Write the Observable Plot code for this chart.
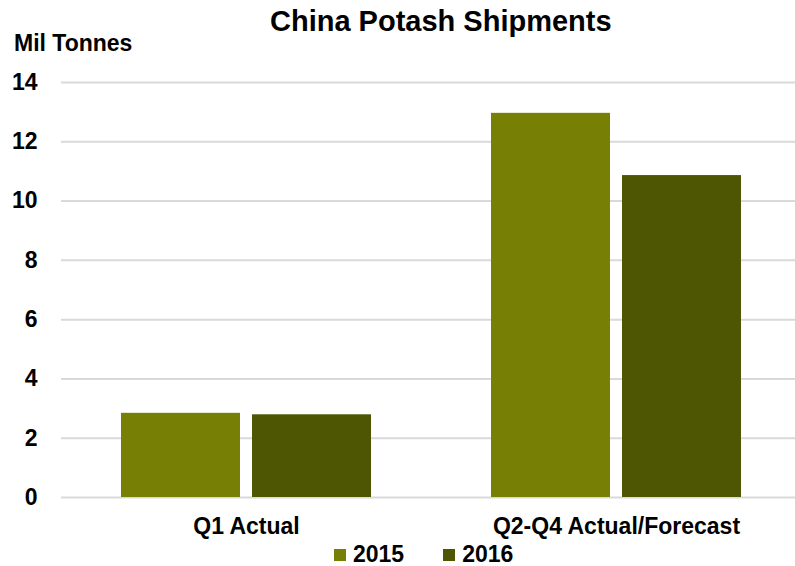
<!DOCTYPE html>
<html>
<head>
<meta charset="utf-8">
<script src="https://cdn.jsdelivr.net/npm/d3@7"></script>
<script src="https://cdn.jsdelivr.net/npm/@observablehq/plot@0.6"></script>
<style>
  html, body { margin: 0; padding: 0; background: #fff; overflow: hidden; }
  #wrap { position: relative; width: 795px; height: 566px; font-family: "Liberation Sans", Arial, sans-serif; font-weight: bold; color: #000; }
  .abs { position: absolute; white-space: nowrap; }
  #title { left: 270px; top: 7px; font-size: 29px; line-height: 29px; }
  #unit { left: 14px; top: 32px; font-size: 23px; line-height: 23px; }
  #legend { left: 334px; top: 543px; font-size: 23px; line-height: 23px; display: flex; align-items: center; }
  .sw { display: inline-block; width: 12px; height: 12px; margin-right: 7px; }
  .item { display: flex; align-items: center; margin-right: 39px; }
</style>
</head>
<body>
<div id="wrap">
  <div id="chart" class="abs" style="left:0;top:0"></div>
  <div id="title" class="abs">China Potash Shipments</div>
  <div id="unit" class="abs">Mil Tonnes</div>
  <div id="legend" class="abs"></div>
</div>
<script>
const categories = ["Q1 Actual", "Q2-Q4 Actual/Forecast"];
const years = ["2015", "2016"];
const values2015 = [2.84, 12.96];
const values2016 = [2.79, 10.86];
const yTicks = [0, 2, 4, 6, 8, 10, 12, 14];
const colors = ["#778004", "#4f5603"];

const data = categories.flatMap((c, i) => [
  {category: c, year: years[0], value: values2015[i]},
  {category: c, year: years[1], value: values2016[i]}
]);

const chart = Plot.plot({
  width: 795,
  height: 540,
  marginLeft: 61,
  marginRight: 0,
  marginTop: 82,
  marginBottom: 43,
  style: {
    fontFamily: "'Liberation Sans', Arial, sans-serif",
    fontSize: "23px",
    fontWeight: "bold",
    color: "#000",
    background: "#fff",
    overflow: "hidden"
  },
  fx: {domain: categories, range: [61, 801], paddingInner: 0, paddingOuter: 0, label: null, tickSize: 0, tickPadding: 20, axis: "bottom"},
  x: {domain: years, axis: null, paddingInner: 0.0909, paddingOuter: 0.447},
  y: {domain: [0, 14], ticks: yTicks, tickSize: 0, tickPadding: 24, label: null},
  color: {domain: years, range: colors},
  marks: [
    Plot.ruleY(yTicks, {stroke: "#d9d9d9", strokeWidth: 2}),
    Plot.barY(data, {fx: "category", x: "year", y: "value", fill: "year"})
  ]
});
document.getElementById("chart").appendChild(chart);

const legend = document.getElementById("legend");
years.forEach((y, i) => {
  const item = document.createElement("div");
  item.className = "item";
  const sw = document.createElement("span");
  sw.className = "sw";
  sw.style.background = colors[i];
  const t = document.createElement("span");
  t.textContent = y;
  item.appendChild(sw);
  item.appendChild(t);
  legend.appendChild(item);
});
</script>
</body>
</html>
